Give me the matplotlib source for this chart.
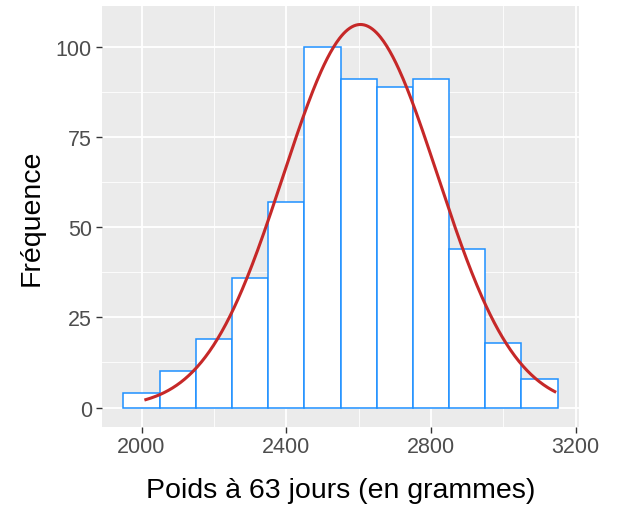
import numpy as np
import matplotlib
matplotlib.use("Agg")
import matplotlib.pyplot as plt
from matplotlib.ticker import MultipleLocator

# histogram bins (width 100 g) and counts
bin_left = [1950, 2050, 2150, 2250, 2350, 2450, 2550, 2650, 2750, 2850, 2950, 3050]
counts = [4, 10, 19, 36, 57, 100, 91, 89, 91, 44, 18, 8]
bin_width = 100

# fitted normal curve parameters
curve_mean = 2605
curve_sd = 213
curve_xmin, curve_xmax = 2012, 3142

plt.rcParams["font.family"] = ["Liberation Sans", "DejaVu Sans"]

fig = plt.figure(figsize=(6.22, 5.10), dpi=100)
ax = fig.add_axes([0.1635, 0.1614, 0.768, 0.824])
ax.set_facecolor("#EBEBEB")

ax.bar(bin_left, counts, width=bin_width, align="edge", color="white",
       edgecolor="#1E90FF", linewidth=1.1, zorder=3)

n_total = sum(counts)
xs = np.linspace(curve_xmin, curve_xmax, 400)
dens = np.exp(-0.5 * ((xs - curve_mean) / curve_sd) ** 2) / (curve_sd * np.sqrt(2 * np.pi))
ax.plot(xs, dens * n_total * bin_width, color="#C62828", linewidth=2.2, zorder=4)

ax.set_xlim(1890, 3210)
ax.set_ylim(-5.3, 111.2)
ax.xaxis.set_major_locator(MultipleLocator(400))
ax.xaxis.set_minor_locator(MultipleLocator(200))
ax.yaxis.set_major_locator(MultipleLocator(25))
ax.yaxis.set_minor_locator(MultipleLocator(12.5))
ax.grid(which="major", color="white", linewidth=1.3, zorder=0)
ax.grid(which="minor", color="white", linewidth=0.6, zorder=0)
ax.set_axisbelow(True)
for s in ax.spines.values():
    s.set_visible(False)
ax.tick_params(which="major", length=4, width=1, color="#333333",
               labelsize=15.5, labelcolor="#4D4D4D", pad=3)
ax.tick_params(which="minor", length=0)

ax.set_xlabel("Poids à 63 jours (en grammes)", fontsize=20.5, color="black", labelpad=14)
ax.set_ylabel("Fréquence", fontsize=20.5, color="black", labelpad=8)

fig.savefig("out.png", dpi=100)
